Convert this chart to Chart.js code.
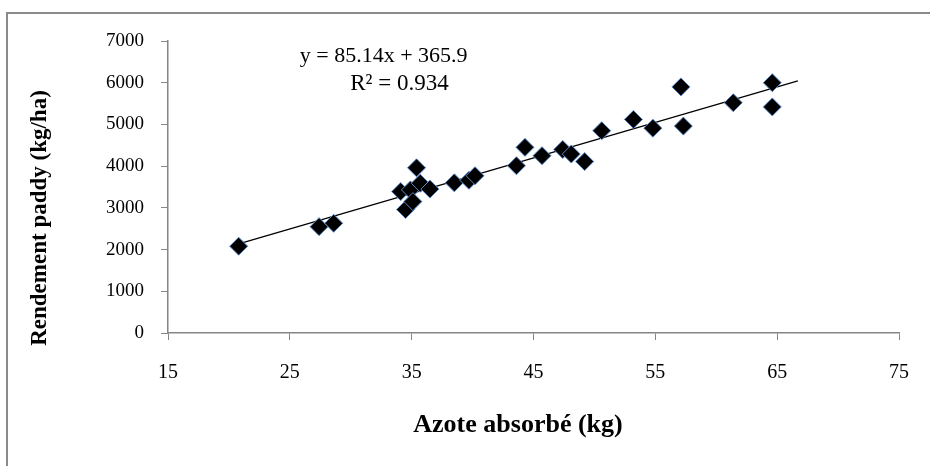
<!DOCTYPE html>
<html>
<head>
<meta charset="utf-8">
<script src="https://cdn.jsdelivr.net/npm/chart.js@4.4.1/dist/chart.umd.min.js"></script>
<style>
  html, body { margin: 0; padding: 0; background: #fff; overflow: hidden; }
  #wrap { position: relative; width: 930px; height: 466px; }
  #frame { position: absolute; left: 6px; top: 12px; width: 1000px; height: 1000px; border: 2px solid #8a8a8a; }
  #chart { position: absolute; left: 0; top: 0; }
</style>
</head>
<body>
<div id="wrap">
  <div id="frame"></div>
  <canvas id="chart" width="930" height="466"></canvas>
</div>
<script>
// azote absorbé (kg) and rendement paddy (kg/ha)
const azote = [20.8, 27.4, 28.6, 34.1, 34.9, 34.5, 35.1, 35.4, 35.7, 36.5,
               38.5, 39.7, 40.2, 43.6, 44.3, 45.7, 47.4, 48.1, 49.2, 50.6,
               53.2, 54.8, 57.1, 57.3, 61.4, 64.6, 64.6];
const rendement = [2080, 2550, 2630, 3390, 3430, 2960, 3150, 3960, 3590, 3450,
                   3600, 3660, 3770, 4010, 4450, 4250, 4400, 4290, 4110, 4850,
                   5120, 4910, 5900, 4960, 5520, 6000, 5420];

// linear trend shown on the chart
const slope = 85.14;
const intercept = 365.9;
const trendX = [20.8, 66.7];

const xTicks = [15, 25, 35, 45, 55, 65, 75];
const yTicks = [0, 1000, 2000, 3000, 4000, 5000, 6000, 7000];

const xTitle = 'Azote absorbé (kg)';
const yTitle = 'Rendement paddy (kg/ha)';

const axisGrey = '#868686';
const serif = "'Liberation Serif', 'Times New Roman', serif";

const trendPoints = trendX.map(x => ({ x: x, y: slope * x + intercept }));
const points = azote.map((x, i) => ({ x: x, y: rendement[i] }));

// equation, R² and the two axis titles
const textLayer = {
    id: 'textLayer',
    afterDraw(chart) {
        const ctx = chart.ctx;
        const xs = chart.scales.x;
        const ys = chart.scales.y;
        ctx.save();
        ctx.fillStyle = '#000';
        ctx.textAlign = 'center';
        ctx.textBaseline = 'middle';
        ctx.font = '22px ' + serif;
        ctx.fillText('y = ' + slope + 'x + ' + intercept, xs.getPixelForValue(32.7), ys.getPixelForValue(6640));
        ctx.font = '23px ' + serif;
        ctx.fillText('R\u00b2 = 0.934', xs.getPixelForValue(34.0), ys.getPixelForValue(5960));

        ctx.font = 'bold 26px ' + serif;
        ctx.fillText(xTitle, 518, 425);

        ctx.translate(40, 218);
        ctx.rotate(-Math.PI / 2);
        ctx.font = 'bold 23px ' + serif;
        ctx.fillText(yTitle, 0, 0);
        ctx.restore();
    }
};

new Chart(document.getElementById('chart'), {
    type: 'scatter',
    data: {
        datasets: [{
            label: 'Rendement',
            data: points,
            pointStyle: 'rectRot',
            pointRadius: 9,
            pointHoverRadius: 9,
            backgroundColor: '#000',
            borderColor: '#5a88c8',
            borderWidth: 1,
            order: 1
        }, {
            label: 'Tendance',
            type: 'line',
            data: trendPoints,
            borderColor: '#000',
            borderWidth: 1.2,
            pointRadius: 0,
            fill: false,
            order: 2
        }]
    },
    options: {
        responsive: false,
        animation: false,
        layout: { padding: { left: 0, right: 31, top: 41, bottom: 0 } },
        plugins: {
            legend: { display: false },
            tooltip: { enabled: false }
        },
        scales: {
            x: {
                type: 'linear',
                min: 15,
                max: 75,
                afterBuildTicks: s => { s.ticks = xTicks.map(v => ({ value: v })); },
                afterFit: s => { s.height = 133; },
                grid: { drawOnChartArea: false, drawTicks: true, tickLength: 7, color: axisGrey },
                border: { color: axisGrey, width: 1.5 },
                ticks: {
                    color: '#000',
                    font: { family: serif, size: 20 },
                    padding: 21,
                    maxRotation: 0,
                    callback: v => String(v)
                }
            },
            y: {
                type: 'linear',
                min: 0,
                max: 7000,
                afterBuildTicks: s => { s.ticks = yTicks.map(v => ({ value: v })); },
                afterFit: s => { s.width = 168; },
                grid: { drawOnChartArea: false, drawTicks: true, tickLength: 7, color: axisGrey },
                border: { color: axisGrey, width: 1.5 },
                ticks: {
                    color: '#000',
                    font: { family: serif, size: 19 },
                    padding: 17,
                    callback: v => String(v)
                }
            }
        }
    },
    plugins: [textLayer]
});
</script>
</body>
</html>
